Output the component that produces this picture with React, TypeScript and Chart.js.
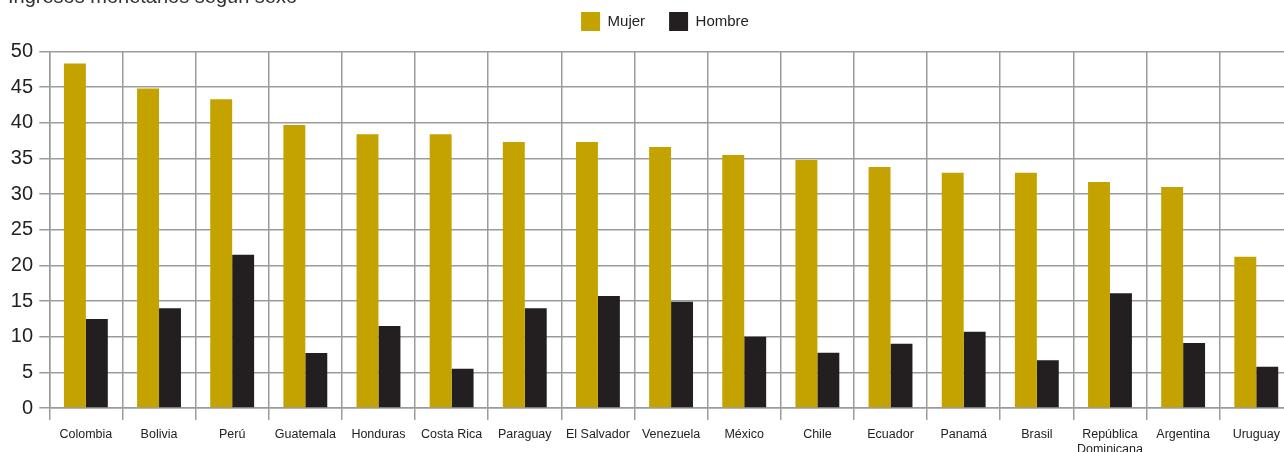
import React, { useEffect, useRef } from "react";
import { Chart, registerables } from "chart.js";

Chart.register(...registerables);

const TITLE = "Ingresos monetarios según sexo";
const categories: (string | string[])[] = [
  "Colombia", "Bolivia", "Perú", "Guatemala", "Honduras", "Costa Rica", "Paraguay",
  "El Salvador", "Venezuela", "México", "Chile", "Ecuador", "Panamá", "Brasil",
  ["República", "Dominicana"], "Argentina", "Uruguay",
];
const mujer = [48.3, 44.8, 43.3, 39.7, 38.4, 38.4, 37.3, 37.3, 36.6, 35.5, 34.8, 33.8, 33.0, 33.0, 31.7, 31.0, 21.2];
const hombre = [12.5, 14.0, 21.5, 7.7, 11.5, 5.5, 14.0, 15.7, 14.9, 10.0, 7.75, 9.0, 10.7, 6.7, 16.1, 9.1, 5.8];
const yTicks = { min: 0, max: 50, step: 5 };

const FONT = "'Liberation Sans', Arial, Helvetica, sans-serif";
const GRID = "#9b9b9e";

export default function App() {
  const ref = useRef<HTMLCanvasElement | null>(null);
  useEffect(() => {
    if (!ref.current) return;
    Chart.defaults.font.family = FONT;
    const chart = new Chart(ref.current, {
      type: "bar",
      data: {
        labels: categories as any,
        datasets: [
          { label: "Mujer", data: mujer, backgroundColor: "#C4A300", borderWidth: 0, categoryPercentage: 0.6, barPercentage: 1 },
          { label: "Hombre", data: hombre, backgroundColor: "#231F20", borderWidth: 0, categoryPercentage: 0.6, barPercentage: 1 },
        ],
      },
      options: {
        animation: false,
        responsive: false,
        layout: { padding: 0 },
        plugins: {
          tooltip: { enabled: false },
          legend: {
            display: true,
            position: "top",
            align: "center",
            weight: 1000,
            labels: {
              boxWidth: 19,
              boxHeight: 19,
              padding: 24,
              color: "#222",
              font: { size: 15, family: FONT },
            },
          },
          title: {
            display: true,
            text: TITLE,
            align: "start",
            position: "top",
            weight: 500,
            color: "#333",
            font: { size: 20, family: FONT, weight: "normal" as any },
            padding: { top: -56, bottom: 42.5 },
          },
        },
        scales: {
          x: {
            type: "category",
            offset: true,
            grid: { color: GRID, lineWidth: 1.5, tickLength: 12, offset: true, drawTicks: true },
            border: { color: GRID, width: 1.5 },
            ticks: {
              color: "#222",
              font: { size: 12.5, family: FONT },
              padding: 7,
              maxRotation: 0,
              minRotation: 0,
              autoSkip: false,
            },
            afterFit: (s: any) => { s.height = 60; },
          },
          y: {
            type: "linear",
            position: "left",
            min: yTicks.min,
            max: yTicks.max,
            grid: { color: GRID, lineWidth: 1.5, tickLength: 10 },
            border: { color: GRID, width: 1.5 },
            ticks: {
              stepSize: yTicks.step,
              color: "#222",
              font: { size: 20, family: FONT },
              padding: 6.3,
            },
            afterFit: (s: any) => { s.width = 41.3; },
          },
          y2: {
            type: "linear",
            position: "right",
            display: true,
            grid: { display: false },
            border: { display: false },
            ticks: { display: false },
            afterFit: (s: any) => { s.width = 29.15; },
          },
        },
      },
    });
    return () => chart.destroy();
  }, []);

  return (
    <div style={{ position: "fixed", left: 0, top: 0, width: 1284, height: 452, overflow: "hidden", background: "#fff" }}>
      <div style={{ position: "absolute", left: 8, top: -12, width: 1314, height: 480 }}>
        <canvas ref={ref} width={1314} height={480} style={{ width: 1314, height: 480, display: "block" }} />
      </div>
    </div>
  );
}
